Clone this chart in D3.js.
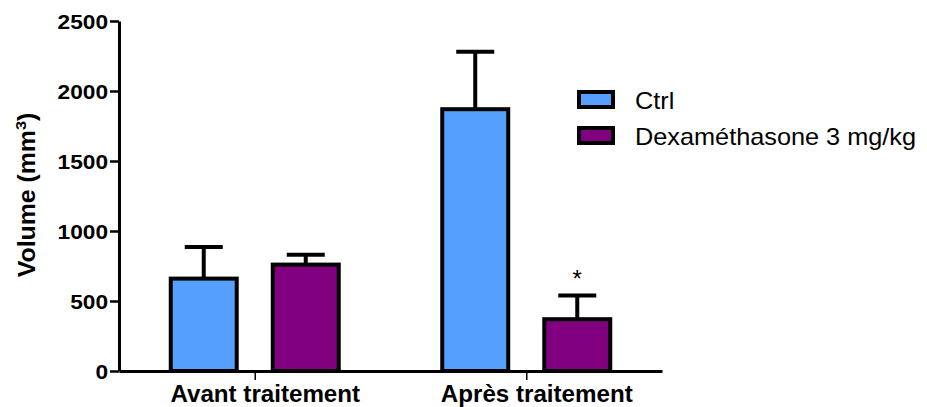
<!DOCTYPE html>
<html>
<head>
<meta charset="utf-8">
<script src="https://cdn.jsdelivr.net/npm/d3@7"></script>
<style>
  body { margin: 0; background: #fff; }
  text { font-family: "Liberation Sans", Arial, sans-serif; fill: #000; }
</style>
</head>
<body>
<div id="chart"></div>
<script>
const categories = ["Avant traitement", "Après traitement"];
const series = ["Ctrl", "Dexaméthasone 3 mg/kg"];
const means = { "Ctrl": [660, 1870], "Dexaméthasone 3 mg/kg": [760, 370] };
const errors = { "Ctrl": [225, 411], "Dexaméthasone 3 mg/kg": [71, 169] };
const yTicks = [0, 500, 1000, 1500, 2000, 2500];
const colors = { "Ctrl": "#559fff", "Dexaméthasone 3 mg/kg": "#800080" };
const stars = [{ cat: "Après traitement", ser: "Dexaméthasone 3 mg/kg" }];

const W = 927, H = 407;
const plotLeft = 119, plotRight = 662, plotTop = 21, plotBottom = 371;
const sx = 1.08; // glyphs in the reference are a bit wider than Arial

const svg = d3.select("#chart").append("svg")
  .attr("width", W)
  .attr("height", H);

const y = d3.scaleLinear().domain([0, 2500]).range([plotBottom, plotTop]);
const x0 = d3.scalePoint().domain(categories).range([plotLeft, plotRight]).padding(0.5);
const x1 = d3.scaleBand().domain(series).range([-86, 86]).paddingInner(0.314);

const rows = [];
categories.forEach((c, i) => {
  series.forEach(s => rows.push({ cat: c, ser: s, mean: means[s][i], err: errors[s][i] }));
});

// bars
const bars = svg.append("g");
bars.selectAll("rect")
  .data(rows)
  .join("rect")
  .attr("x", d => x0(d.cat) + x1(d.ser) + 2)
  .attr("y", d => y(d.mean))
  .attr("width", x1.bandwidth() - 4)
  .attr("height", d => plotBottom - y(d.mean))
  .attr("fill", d => colors[d.ser])
  .attr("stroke", "#000")
  .attr("stroke-width", 4);

// error bars (upper only)
const eb = svg.append("g").attr("stroke", "#000").attr("stroke-width", 4);
rows.forEach(d => {
  const cx = x0(d.cat) + x1(d.ser) + x1.bandwidth() / 2;
  eb.append("line")
    .attr("x1", cx).attr("x2", cx)
    .attr("y1", y(d.mean)).attr("y2", y(d.mean + d.err));
  eb.append("line")
    .attr("x1", cx - 19).attr("x2", cx + 19)
    .attr("y1", y(d.mean + d.err)).attr("y2", y(d.mean + d.err));
});

// significance marks
stars.forEach(st => {
  const d = rows.find(r => r.cat === st.cat && r.ser === st.ser);
  const cx = x0(d.cat) + x1(d.ser) + x1.bandwidth() / 2;
  svg.append("text")
    .attr("x", cx)
    .attr("y", y(d.mean + d.err) - 9)
    .attr("text-anchor", "middle")
    .style("font-size", "24px")
    .text("*");
});

// y axis
const yAxis = svg.append("g")
  .attr("transform", `translate(${plotLeft},0)`)
  .call(d3.axisLeft(y).tickValues(yTicks).tickFormat(d3.format("d")).tickSize(9).tickSizeOuter(0));
yAxis.select(".domain").attr("stroke-width", 3);
yAxis.selectAll(".tick line").attr("stroke-width", 2.5);
yAxis.selectAll(".tick text")
  .attr("x", -11 / sx)
  .attr("dy", "0.36em")
  .attr("transform", `scale(${sx},1)`)
  .style("font-size", "21px")
  .style("font-weight", "bold");

// x axis
const xAxis = svg.append("g")
  .attr("transform", `translate(0,${plotBottom})`)
  .call(d3.axisBottom(x0).tickSize(9).tickSizeOuter(0));
xAxis.select(".domain").attr("stroke-width", 3);
xAxis.selectAll(".tick line").attr("stroke-width", 1.5);
xAxis.selectAll(".tick text")
  .attr("x", 10 / 1.05)
  .attr("y", 31)
  .attr("dy", 0)
  .attr("transform", "scale(1.05,1)")
  .style("font-size", "23px")
  .style("font-weight", "bold");

// y label
const yl = svg.append("g")
  .attr("transform", `translate(35,195) rotate(-90) scale(${sx},1)`);
const ylt = yl.append("text")
  .attr("text-anchor", "middle")
  .style("font-size", "23px")
  .style("font-weight", "bold");
ylt.append("tspan").text("Volume (mm");
ylt.append("tspan").attr("dy", -9).style("font-size", "15px").text("3");
ylt.append("tspan").attr("dy", 9).text(")");

// legend
const legend = svg.append("g").attr("transform", "translate(579,92)");
series.forEach((s, i) => {
  const g = legend.append("g").attr("transform", `translate(0,${i * 36})`);
  g.append("rect")
    .attr("width", 34)
    .attr("height", 15)
    .attr("fill", colors[s])
    .attr("stroke", "#000")
    .attr("stroke-width", 4);
  g.append("g")
    .attr("transform", `translate(56,17) scale(1.1,1)`)
    .append("text")
    .style("font-size", "23px")
    .text(s);
});
</script>
</body>
</html>
